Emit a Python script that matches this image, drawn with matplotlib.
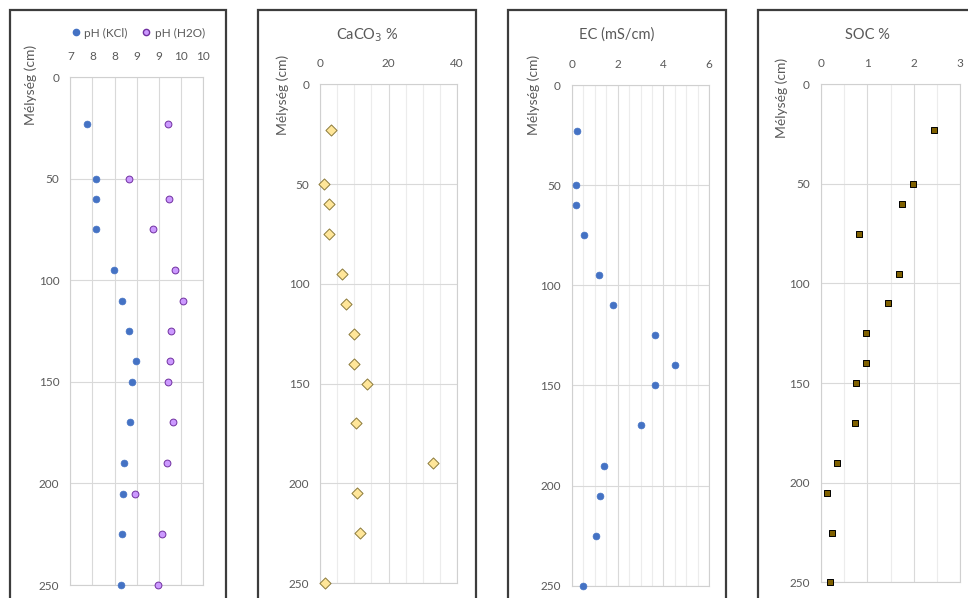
import matplotlib
matplotlib.use("Agg")
import matplotlib.pyplot as plt
from matplotlib.patches import Rectangle
from matplotlib.lines import Line2D
from matplotlib.ticker import MultipleLocator, FixedLocator

plt.rcParams['font.family'] = ['Lato', 'DejaVu Sans']

# ---------------- data ----------------
depth = [23, 50, 60, 75, 95, 110, 125, 140, 150, 170, 190, 205, 225, 250]
ph_kcl = [7.38, 7.57, 7.58, 7.59, 7.99, 8.16, 8.32, 8.48, 8.39, 8.34, 8.22, 8.20, 8.17, 8.15]
ph_h2o = [9.20, 8.33, 9.23, 8.87, 9.37, 9.54, 9.27, 9.26, 9.20, 9.32, 9.18, 8.47, 9.06, 8.97]
caco3 = [3.1, 1.1, 2.6, 2.6, 6.4, 7.5, 10.0, 10.0, 13.7, 10.4, 33.0, 10.9, 11.7, 1.5]
ec = [0.23, 0.20, 0.20, 0.55, 1.20, 1.80, 3.65, 4.50, 3.64, 3.04, 1.43, 1.24, 1.08, 0.49]
soc = [2.43, 1.99, 1.74, 0.81, 1.69, 1.44, 0.98, 0.98, 0.76, 0.74, 0.34, 0.12, 0.23, 0.19]

ph_ticks = [7, 7.5, 8, 8.5, 9, 9.5, 10]
ph_tick_labels = ['7', '8', '8', '9', '9', '10', '10']
depth_ticks = [0, 50, 100, 150, 200, 250]
ylabel = 'Mélység (cm)'
titles = ['CaCO$_3$ %', 'EC (mS/cm)', 'SOC %']
legend_labels = ['pH (KCl)', 'pH (H2O)']

W, H = 968, 598
fig = plt.figure(figsize=(W / 100, H / 100), dpi=100)
fig.patch.set_facecolor('white')

def fx(px):
    return px / W

def fy(py):
    return 1 - py / H

def make_axes(x0, x1, y0, y1):
    ax = fig.add_axes([fx(x0), fy(y1), fx(x1) - fx(x0), fy(y0) - fy(y1)])
    return ax

# panel boxes
box_color = '#3c3c3c'
for bx0, bx1 in [(10, 226), (258, 476), (508, 726), (758, 990)]:
    fig.patches.append(Rectangle((fx(bx0), fy(620)), fx(bx1) - fx(bx0), fy(10) - fy(620),
                                 transform=fig.transFigure, fill=False,
                                 edgecolor=box_color, linewidth=1.6, zorder=0))

tick_color = '#595959'
grid_major = '#d9d9d9'
grid_minor = '#ececec'

def style(ax, xlim, xmajor, xminor=None, xticklabels=None):
    ax.set_ylim(250, 0)
    ax.set_xlim(*xlim)
    ax.yaxis.set_major_locator(FixedLocator(depth_ticks))
    ax.xaxis.set_major_locator(MultipleLocator(xmajor))
    if xminor:
        ax.xaxis.set_minor_locator(MultipleLocator(xminor))
    if xticklabels is not None:
        ax.set_xticks(ph_ticks)
        ax.set_xticklabels(xticklabels)
    ax.xaxis.tick_top()
    ax.tick_params(axis='both', which='both', length=0, labelsize=8.5,
                   labelcolor=tick_color)
    ax.tick_params(axis='x', pad=11)
    ax.tick_params(axis='y', pad=8)
    ax.grid(True, which='major', color=grid_major, linewidth=0.8)
    if xminor:
        ax.grid(True, which='minor', axis='x', color=grid_minor, linewidth=0.8)
    for s in ax.spines.values():
        s.set_color('#d0d0d0')
        s.set_linewidth(0.8)
    ax.set_axisbelow(True)

ylab_size = 10

# ---- Panel 1: pH ----
ax1 = make_axes(70.3, 203.3, 77, 585)
style(ax1, (7, 10), 0.5, xticklabels=ph_tick_labels)
ax1.scatter(ph_kcl, depth, s=24, color='#4472C4', edgecolor='#4472C4', linewidth=0.5,
            zorder=3, clip_on=False)
ax1.scatter(ph_h2o, depth, s=24, color='#CC99FF', edgecolor='#7030A0', linewidth=0.7,
            zorder=3, clip_on=False)
handles = [Line2D([], [], marker='o', linestyle='none', markersize=4.5,
                  markerfacecolor='#4472C4', markeredgecolor='#4472C4'),
           Line2D([], [], marker='o', linestyle='none', markersize=4.5,
                  markerfacecolor='#CC99FF', markeredgecolor='#7030A0')]
fig.legend(handles, legend_labels, loc='center', bbox_to_anchor=(fx(138), fy(33)),
           ncol=2, frameon=False, fontsize=8.5, handlelength=0.8, handletextpad=0.3,
           columnspacing=1.2, labelcolor=tick_color)
fig.text(fx(31), fy(85), ylabel, rotation=90, ha='center', va='center',
         fontsize=ylab_size, color=tick_color)

# ---- Panel 2: CaCO3 ----
ax2 = make_axes(320.3, 456.7, 84.3, 583)
style(ax2, (0, 40), 20, 5)
ax2.scatter(caco3, depth, s=32, marker='D', color='#FFE699', edgecolor='#8B7A3A',
            linewidth=0.7, zorder=3, clip_on=False)
fig.text(fx(367), fy(35), titles[0], ha='center', va='center', fontsize=10.5,
         color=tick_color)
fig.text(fx(283), fy(95), ylabel, rotation=90, ha='center', va='center',
         fontsize=ylab_size, color=tick_color)

# ---- Panel 3: EC ----
ax3 = make_axes(571.7, 709.3, 85, 585.7)
style(ax3, (0, 6), 2, 0.5)
ax3.scatter(ec, depth, s=24, color='#4472C4', edgecolor='#4472C4', linewidth=0.5,
            zorder=3, clip_on=False)
fig.text(fx(617), fy(35), titles[1], ha='center', va='center', fontsize=10.5,
         color=tick_color)
fig.text(fx(534), fy(95), ylabel, rotation=90, ha='center', va='center',
         fontsize=ylab_size, color=tick_color)

# ---- Panel 4: SOC ----
ax4 = make_axes(821, 960, 84.3, 582.3)
style(ax4, (0, 3), 1, 0.5)
ax4.scatter(soc, depth, s=24, marker='s', color='#7F6000', edgecolor='#000000',
            linewidth=0.7, zorder=3, clip_on=False)
fig.text(fx(867), fy(35), titles[2], ha='center', va='center', fontsize=10.5,
         color=tick_color)
fig.text(fx(782), fy(98), ylabel, rotation=90, ha='center', va='center',
         fontsize=ylab_size, color=tick_color)

fig.savefig('out.png', dpi=100, facecolor='white')
